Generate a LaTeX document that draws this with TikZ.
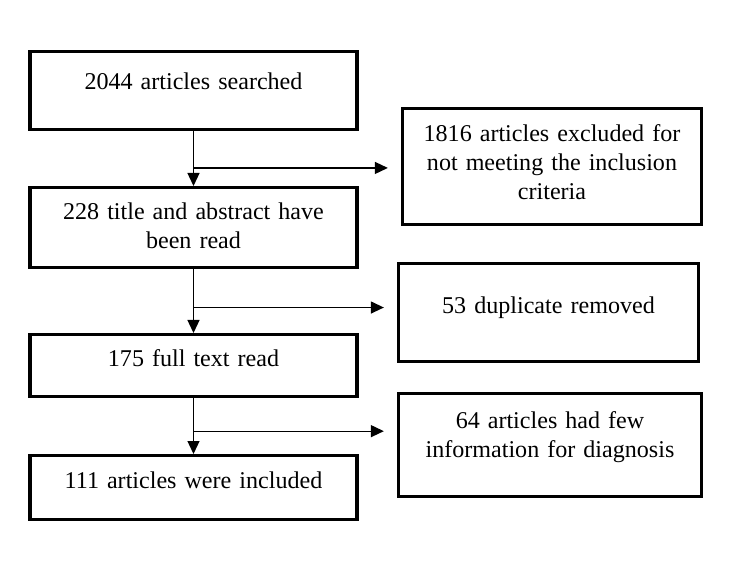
\documentclass[tikz,border=0pt]{standalone}
\usepackage{fontspec}
\setmainfont{Liberation Serif}
\usepackage{tikz}
\usetikzlibrary{arrows.meta,calc,positioning}

\begin{document}
\begin{tikzpicture}[
  box/.style={draw, line width=0.066cm, anchor=north, align=center, inner ysep=0pt,
    text width=5.9cm, font=\fontsize{13.7}{16.4}\selectfont},
  wide/.style={box, minimum width=6.54cm},
  side/.style={box, text width=5.6cm},
  arr/.style={-{Triangle[length=0.26cm,width=0.24cm]}, line width=0.026cm},
  branch/.style={arr, shorten >=0.26cm}]

\useasboundingbox (0,0) rectangle (14.78,-11.38);

% --- main column ---
\node[wide, text height=0.76cm, text depth=0.80cm] (srch) at (3.87,-1.00) {2044 articles searched};
\node[wide, text height=0.64cm, text depth=0.96cm] (read) at (3.87,-3.72) {228 title and abstract have\\been read};
\node[wide, text height=0.64cm, text depth=0.60cm] (full) at (3.87,-6.66) {175 full text read};
\node[wide, text height=0.66cm, text depth=0.62cm] (incl) at (3.87,-9.08) {111 articles were included};

% --- excluded records ---
\node[side, minimum width=5.98cm, text height=0.66cm, text depth=1.66cm] (excl) at (11.04,-2.14) {1816 articles excluded for\\not meeting the inclusion\\criteria};
\node[side, minimum width=6.00cm, text height=1.00cm, text depth=0.96cm] (dupl) at (10.97,-5.24) {53 duplicate removed};
\node[side, minimum width=6.06cm, text height=0.70cm, text depth=1.36cm] (few)  at (11.00,-7.84) {64 articles had few\\information for diagnosis};

% --- connectors ---
\draw[arr] (srch.south) -- coordinate[pos=0.67] (br1) (read.north);
\draw[arr] (read.south) -- coordinate[pos=0.60] (br2) (full.north);
\draw[arr] (full.south) -- coordinate[pos=0.59] (br3) (incl.north);
\draw[branch] (br1) -- (br1 -| excl.west);
\draw[branch] (br2) -- (br2 -| dupl.west);
\draw[branch] (br3) -- (br3 -| few.west);
\end{tikzpicture}
\end{document}
